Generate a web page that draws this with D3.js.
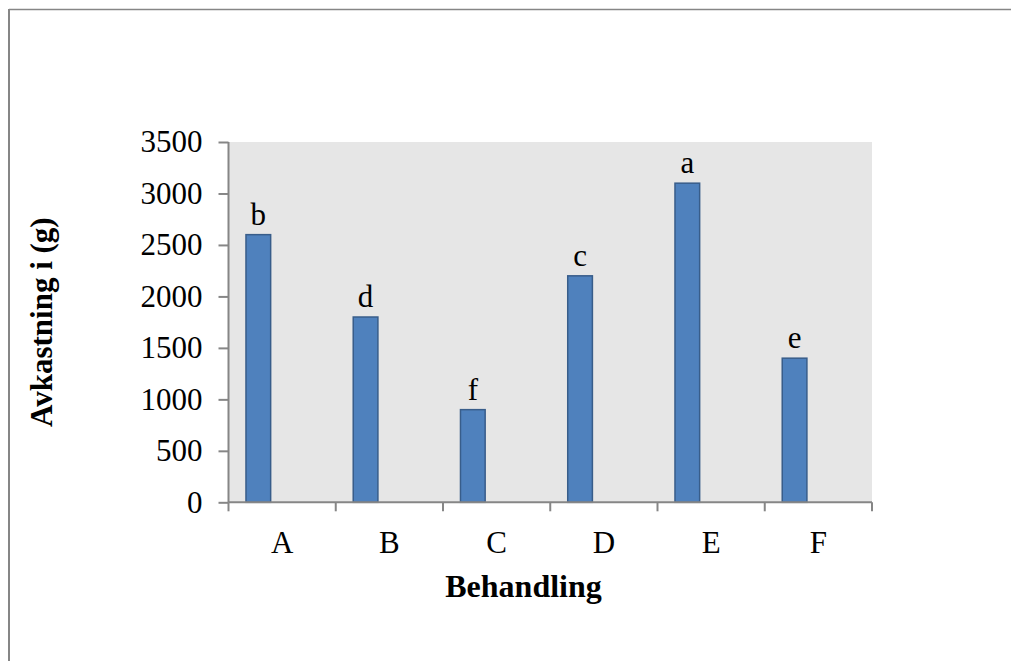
<!DOCTYPE html>
<html><head><meta charset="utf-8">
<script src="https://cdn.jsdelivr.net/npm/d3@7"></script>
<style>html,body{margin:0;padding:0;background:#fff}svg{display:block}</style>
</head><body>
<script>
const categories = ["A","B","C","D","E","F"];
const values = [2600,1800,900,2200,3100,1400];
const letters = ["b","d","f","c","a","e"];
const yTicks = [0,500,1000,1500,2000,2500,3000,3500];
const yTitle = "Avkastning i (g)";
const xTitle = "Behandling";

const W=1011,H=661;
const svg=d3.select("body").append("svg").attr("width",W).attr("height",H);
const font="'Liberation Serif','Times New Roman',serif";
const axisColor="#868686";

// outer border (left & top visible)
svg.append("line").attr("x1",9).attr("x2",9).attr("y1",9).attr("y2",H).attr("stroke",axisColor).attr("stroke-width",2);
svg.append("line").attr("x1",9).attr("x2",W).attr("y1",9.5).attr("y2",9.5).attr("stroke",axisColor).attr("stroke-width",1.5);

const L=228.5,R=872,T=142,B=502.3;
const x=d3.scaleBand().domain(categories).range([L,R]).padding(0);
const y=d3.scaleLinear().domain([0,3500]).range([B,T]);

svg.append("rect").attr("x",L).attr("y",T).attr("width",R-L).attr("height",B-T).attr("fill","#e6e6e6");

const bw=x.bandwidth();
const g=svg.append("g");
g.selectAll("rect.bar").data(categories).join("rect").attr("class","bar")
 .attr("x",d=>x(d)+bw*0.163).attr("width",bw*0.23)
 .attr("y",(d,i)=>y(values[i])).attr("height",(d,i)=>B-y(values[i]))
 .attr("fill","#4f81bd").attr("stroke","#385d8a").attr("stroke-width",1.5);

g.selectAll("text.lbl").data(categories).join("text").attr("class","lbl")
 .attr("x",d=>x(d)+bw*0.163+bw*0.115).attr("y",(d,i)=>y(values[i])-10)
 .attr("text-anchor","middle").attr("font-family",font).attr("font-size",31)
 .text((d,i)=>letters[i]);

// y axis
const yAxis=d3.axisLeft(y).tickValues(yTicks).tickSize(10).tickPadding(16).tickFormat(d3.format("d"));
const ya=svg.append("g").attr("transform",`translate(${L},0)`).call(yAxis);
ya.select(".domain").attr("stroke",axisColor).attr("stroke-width",2).attr("d",`M0,${T}V${B}`);
ya.selectAll(".tick line").attr("stroke",axisColor).attr("stroke-width",2);
ya.selectAll(".tick text").attr("font-family",font).attr("font-size",31).attr("fill","#000");

// x axis
const xa=svg.append("g").attr("transform",`translate(0,${B})`);
xa.append("path").attr("d",`M${L},0H${R}`).attr("stroke",axisColor).attr("stroke-width",2);
const bounds=categories.map(c=>x(c)).concat([R]);
xa.selectAll("line.t").data(bounds).join("line").attr("class","t")
 .attr("x1",d=>d).attr("x2",d=>d).attr("y1",0).attr("y2",9).attr("stroke",axisColor).attr("stroke-width",2);
xa.selectAll("text.c").data(categories).join("text").attr("class","c")
 .attr("x",d=>x(d)+bw/2).attr("y",51).attr("text-anchor","middle")
 .attr("font-family",font).attr("font-size",31).text(d=>d);

svg.append("text").attr("x",523.5).attr("y",597).attr("text-anchor","middle")
 .attr("font-family",font).attr("font-size",32).attr("font-weight","bold").text(xTitle);
svg.append("text").attr("transform",`translate(52,${(T+B)/2}) rotate(-90)`).attr("text-anchor","middle")
 .attr("font-family",font).attr("font-size",31).attr("font-weight","bold").text(yTitle);
</script>
</body></html>
